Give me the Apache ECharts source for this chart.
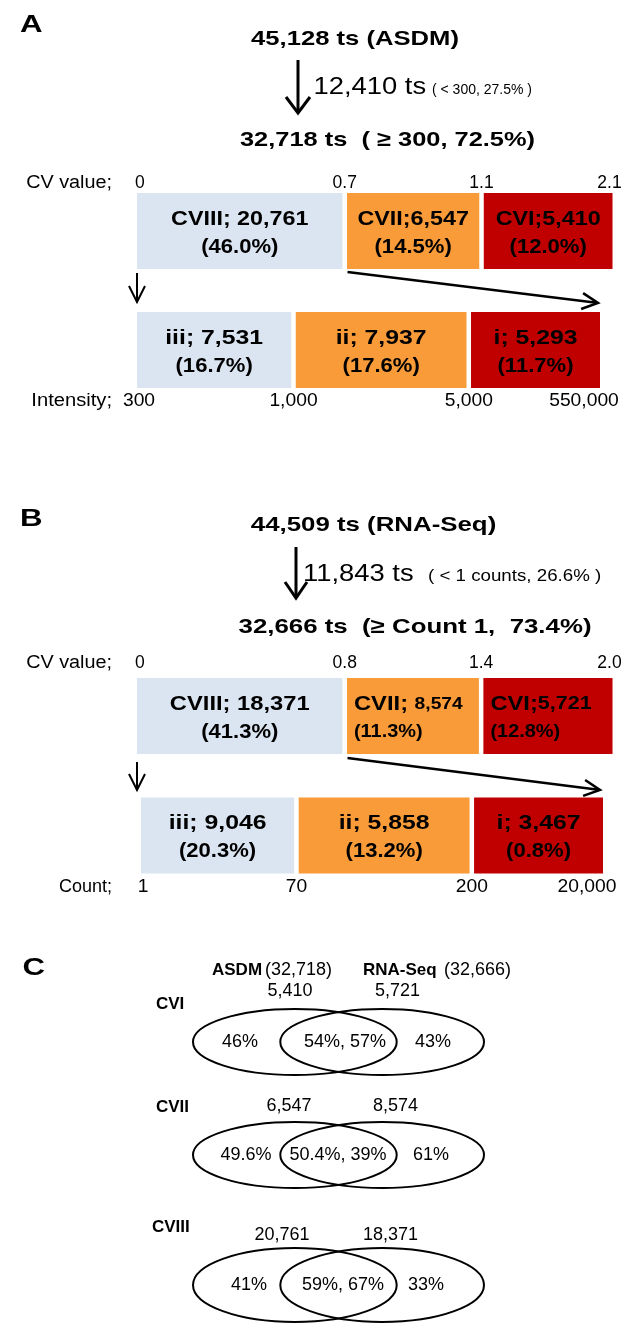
<!DOCTYPE html>
<html>
<head>
<meta charset="utf-8">
<script src="https://cdn.jsdelivr.net/npm/echarts@6.0.0/dist/echarts.min.js"></script>
<style>
html,body{margin:0;padding:0;background:#ffffff;}
#chart{width:643px;height:1329px;}
</style>
</head>
<body>
<div id="chart"></div>
<script>
// ================= DATA =================
// Panel A (ASDM)
const asdmTitle = '45,128 ts (ASDM)';
const asdmFiltered = '12,410 ts';
const asdmFilteredNote = '( < 300, 27.5% )';
const asdmKept = '32,718 ts  ( \u2265 300, 72.5%)';
const asdmCvTicks = ['0', '0.7', '1.1', '2.1'];
const asdmIntensityTicks = ['300', '1,000', '5,000', '550,000'];
const asdmCvClasses = ['CVIII', 'CVII', 'CVI'];
const asdmCvCounts = [20761, 6547, 5410];
const asdmCvPercents = ['46.0', '14.5', '12.0'];
const asdmIntClasses = ['iii', 'ii', 'i'];
const asdmIntCounts = [7531, 7937, 5293];
const asdmIntPercents = ['16.7', '17.6', '11.7'];

// Panel B (RNA-Seq)
const rnaTitle = '44,509 ts (RNA-Seq)';
const rnaFiltered = '11,843 ts';
const rnaFilteredNote = '( < 1 counts, 26.6% )';
const rnaKept = '32,666 ts  (\u2265 Count 1,  73.4%)';
const rnaCvTicks = ['0', '0.8', '1.4', '2.0'];
const rnaCountTicks = ['1', '70', '200', '20,000'];
const rnaCvClasses = ['CVIII', 'CVII', 'CVI'];
const rnaCvCounts = [18371, 8574, 5721];
const rnaCvPercents = ['41.3', '11.3', '12.8'];
const rnaCntClasses = ['iii', 'ii', 'i'];
const rnaCntCounts = [9046, 5858, 3467];
const rnaCntPercents = ['20.3', '13.2', '0.8'];

// Panel C (Venn overlap)
const vennSets = ['ASDM', 'RNA-Seq'];
const vennSetTotals = ['(32,718)', '(32,666)'];
const vennRows = ['CVI', 'CVII', 'CVIII'];
const vennAsdmCounts = [5410, 6547, 20761];
const vennRnaCounts = [5721, 8574, 18371];
const vennAsdmOnly = ['46%', '49.6%', '41%'];
const vennShared = ['54%, 57%', '50.4%, 39%', '59%, 67%'];
const vennRnaOnly = ['43%', '61%', '33%'];

// ================= LAYOUT / STYLE =================
const FONT = '"Liberation Sans", Arial, Helvetica, sans-serif';
const COLORS = ['#dbe5f1', '#f99b38', '#c00000'];
const BAR = { left: 137, width: 476, h: 76, gap: 4.5, pad: 7 };
const GRID_A = { top: 171.5, height: 238, upper: [0, 43.64, 72.38, 99.9], lower: [0, 32.88, 69.7, 97.27] };
const GRID_B = { top: 656.25, height: 239, upper: [0, 43.64, 72.3, 99.9], lower: [0.84, 33.5, 70.34, 97.9] };
const VENN = { left: 193, width: 291, centers: [35, 65], half: 35, rowY: [1042, 1155, 1285], ry: [33, 33, 37] };

function font(size, bold) { return (bold ? 'bold ' : '') + size + 'px ' + FONT; }
const mctx = document.createElement('canvas').getContext('2d');
function measure(t, f) { mctx.font = f; return mctx.measureText(t).width; }
function fmt(n) { return n.toLocaleString('en-US'); }
function textEl(x, y, text, f, sx, align) {
  return { type: 'text', x: x, y: y, scaleX: sx, silent: true,
    style: { text: text, font: f, fill: '#000', textAlign: align, textVerticalAlign: 'middle' } };
}
function txt(x, y, text, size, o) {
  o = o || {};
  return textEl(x, y, text, font(size, o.bold), o.sx || 1, o.align || 'left');
}

const chart = echarts.init(document.getElementById('chart'), null, { renderer: 'canvas' });

function barSeries(gridIndex, rows) {
  const data = [];
  rows.forEach(function (row) {
    for (let i = 0; i < 3; i++) data.push([row.cuts[i], row.cuts[i + 1], 0]);
  });
  return {
    type: 'custom', coordinateSystem: 'cartesian2d', xAxisIndex: gridIndex, yAxisIndex: gridIndex,
    silent: true, animation: false, encode: { x: [0, 1] }, data: data,
    renderItem: function (params, api) {
      const r = Math.floor(params.dataIndex / 3), i = params.dataIndex % 3;
      const row = rows[r];
      const p0 = api.coord([api.value(0), r]);
      const p1 = api.coord([api.value(1), r]);
      const x0 = p0[0] + (i > 0 ? BAR.gap / 2 : 0);
      const x1 = p1[0] - (i < 2 ? BAR.gap / 2 : 0);
      const cy = p0[1];
      const children = [{ type: 'rect', shape: { x: x0, y: cy - BAR.h / 2, width: x1 - x0, height: BAR.h }, style: { fill: COLORS[i] } }];
      const f1 = font(row.size, true), f2 = font(row.numSize[i], true);
      const part1 = row.names[i] + row.seps[i], part2 = fmt(row.counts[i]);
      const w1 = measure(part1, f1) * row.sx, w2 = measure(part2, f2) * row.sx;
      const left = row.align[i] === 'left';
      const s1 = left ? x0 + BAR.pad : (x0 + x1) / 2 - (w1 + w2) / 2;
      children.push(textEl(s1, cy - 12, part1, f1, row.sx, 'left'));
      children.push(textEl(s1 + w1, cy - 12, part2, f2, row.sx, 'left'));
      const pt = '(' + row.pcts[i] + '%)';
      const fp = font(row.pctSize[i], true);
      const wp = measure(pt, fp) * row.pctSx;
      const s2 = left ? x0 + BAR.pad : (x0 + x1) / 2 - wp / 2;
      children.push(textEl(s2, cy + 16, pt, fp, row.pctSx, 'left'));
      return { type: 'group', children: children };
    }
  };
}

const rowsA = [
  { names: asdmCvClasses, seps: ['; ', ';', ';'], counts: asdmCvCounts, pcts: asdmCvPercents, cuts: GRID_A.upper,
    align: ['center', 'center', 'center'], size: 21, numSize: [21, 21, 21], sx: 1.11, pctSize: [21, 21, 21], pctSx: 1.05 },
  { names: asdmIntClasses, seps: ['; ', '; ', '; '], counts: asdmIntCounts, pcts: asdmIntPercents, cuts: GRID_A.lower,
    align: ['center', 'center', 'center'], size: 21, numSize: [21, 21, 21], sx: 1.18, pctSize: [21, 21, 21], pctSx: 1.05 }
];
const rowsB = [
  { names: rnaCvClasses, seps: ['; ', '; ', ';'], counts: rnaCvCounts, pcts: rnaCvPercents, cuts: GRID_B.upper,
    align: ['center', 'left', 'left'], size: 21, numSize: [21, 17, 19], sx: 1.13, pctSize: [21, 19, 19], pctSx: 1.05 },
  { names: rnaCntClasses, seps: ['; ', '; ', '; '], counts: rnaCntCounts, pcts: rnaCntPercents, cuts: GRID_B.lower,
    align: ['center', 'center', 'center'], size: 21, numSize: [21, 21, 21], sx: 1.18, pctSize: [21, 21, 21], pctSx: 1.05 }
];

function vennSeries(k) {
  return {
    type: 'custom', coordinateSystem: 'cartesian2d', xAxisIndex: 2 + k, yAxisIndex: 2 + k,
    silent: true, animation: false, encode: { x: 0 },
    data: VENN.centers.map(function (c) { return [c, 0]; }),
    renderItem: function (params, api) {
      const c = api.coord([api.value(0), 0]);
      const rx = api.size([VENN.half, 0])[0];
      return { type: 'ellipse', shape: { cx: c[0], cy: c[1], rx: rx, ry: VENN.ry[k] },
        style: { fill: 'none', stroke: '#000', lineWidth: 2 } };
    }
  };
}

const grids = [
  { left: BAR.left, width: BAR.width, top: GRID_A.top, height: GRID_A.height },
  { left: BAR.left, width: BAR.width, top: GRID_B.top, height: GRID_B.height }
];
VENN.rowY.forEach(function (y) { grids.push({ left: VENN.left, width: VENN.width, top: y - 40, height: 80 }); });
const xAxes = grids.map(function (g, i) { return { gridIndex: i, type: 'value', min: 0, max: 100, show: false }; });
const yAxes = [
  { gridIndex: 0, type: 'category', data: ['CV', 'Intensity'], inverse: true, show: false },
  { gridIndex: 1, type: 'category', data: ['CV', 'Count'], inverse: true, show: false }
];
vennRows.forEach(function (r, k) { yAxes.push({ gridIndex: 2 + k, type: 'category', data: [r], show: false }); });

chart.setOption({
  animation: false,
  backgroundColor: '#ffffff',
  grid: grids, xAxis: xAxes, yAxis: yAxes,
  series: [barSeries(0, rowsA), barSeries(1, rowsB), vennSeries(0), vennSeries(1), vennSeries(2)]
});

// ================= ANNOTATIONS =================
function arrow(x1, y1, x2, y2, lw, hl, hw) {
  const L = Math.hypot(x2 - x1, y2 - y1), dx = (x2 - x1) / L, dy = (y2 - y1) / L;
  const nx = -dy, ny = dx;
  const bx = x2 - dx * hl, by = y2 - dy * hl;
  const st = { stroke: '#000', lineWidth: lw, fill: 'none', lineCap: 'butt', lineJoin: 'miter' };
  return [
    { type: 'line', silent: true, shape: { x1: x1, y1: y1, x2: x2 - dx * lw * 0.6, y2: y2 - dy * lw * 0.6 }, style: st },
    { type: 'polyline', silent: true, shape: { points: [[bx + nx * hw, by + ny * hw], [x2, y2], [bx - nx * hw, by - ny * hw]] }, style: st }
  ];
}

function tickLabels(gridIndex, cuts, labels, y, isUpper, size, sx) {
  const out = [];
  labels.forEach(function (lab, i) {
    const px = chart.convertToPixel({ xAxisIndex: gridIndex }, cuts[i]);
    let x = px, align = 'center';
    if (isUpper) {
      if (i === 0) { x = px - 2; align = 'left'; }
      else if (i === labels.length - 1) { x = px - 3; }
    } else {
      if (i === 0) { x = px + 2; }
      else if (i === labels.length - 1) { x = px - 16; }
    }
    out.push(txt(x, y, lab, size, { align: align, sx: sx }));
  });
  return out;
}

let els = [];
// Panel A
els.push(txt(20, 25.5, 'A', 24, { bold: true, sx: 1.3 }));
els.push(txt(355, 39, asdmTitle, 21, { bold: true, sx: 1.22, align: 'center' }));
els = els.concat(arrow(298, 60, 298, 113, 3, 16, 12));
els.push(txt(313.5, 88, asdmFiltered, 23, { sx: 1.19 }));
els.push(txt(432, 90, asdmFilteredNote, 14, { sx: 1.0 }));
els.push(txt(387.5, 140, asdmKept, 21, { bold: true, sx: 1.21, align: 'center' }));
els.push(txt(112, 183, 'CV value;', 18, { sx: 1.1, align: 'right' }));
els.push(txt(112, 401, 'Intensity;', 18, { sx: 1.12, align: 'right' }));
els = els.concat(tickLabels(0, GRID_A.upper, asdmCvTicks, 183, true, 17.5, 1.0));
els = els.concat(tickLabels(0, GRID_A.lower, asdmIntensityTicks, 401, false, 18, 1.07));
els = els.concat(arrow(137, 273, 137, 302, 2, 16, 8));
els = els.concat(arrow(347.5, 272, 598, 303, 2.5, 16, 8));

// Panel B
els.push(txt(20, 519, 'B', 24, { bold: true, sx: 1.3 }));
els.push(txt(373.5, 525, rnaTitle, 21, { bold: true, sx: 1.23, align: 'center' }));
els = els.concat(arrow(296, 547, 296, 598, 3, 16, 11));
els.push(txt(303, 575, rnaFiltered, 23, { sx: 1.19 }));
els.push(txt(428, 577, rnaFilteredNote, 16, { sx: 1.17 }));
els.push(txt(415, 627, rnaKept, 21, { bold: true, sx: 1.23, align: 'center' }));
els.push(txt(112, 663, 'CV value;', 18, { sx: 1.1, align: 'right' }));
els.push(txt(112, 887, 'Count;', 18, { sx: 1.0, align: 'right' }));
els = els.concat(tickLabels(1, GRID_B.upper, rnaCvTicks, 663, true, 17.5, 1.0));
els = els.concat(tickLabels(1, GRID_B.lower, rnaCountTicks, 887, false, 18, 1.07));
els = els.concat(arrow(137, 762, 137, 790, 2, 16, 8));
els = els.concat(arrow(347.5, 758, 600, 790, 2.5, 16, 8));

// Panel C
els.push(txt(22.5, 968, 'C', 24, { bold: true, sx: 1.3 }));
els.push(txt(212, 970, vennSets[0], 17, { bold: true }));
els.push(txt(265, 970, vennSetTotals[0], 18));
els.push(txt(363, 970, vennSets[1], 17, { bold: true }));
els.push(txt(444, 970, vennSetTotals[1], 18));
const vennLabelPos = [[156, 1004], [156, 1107], [152, 1227]];
const vennCountX = [[290, 397.5], [289, 395.5], [282, 390.5]];
const vennCountY = [991, 1106, 1235];
const vennRegionX = [[240, 345, 433], [246, 338, 431], [249, 343, 426]];
vennRows.forEach(function (r, k) {
  const cy = VENN.rowY[k];
  els.push(txt(vennLabelPos[k][0], vennLabelPos[k][1], r, 17, { bold: true }));
  els.push(txt(vennCountX[k][0], vennCountY[k], fmt(vennAsdmCounts[k]), 18, { align: 'center' }));
  els.push(txt(vennCountX[k][1], vennCountY[k], fmt(vennRnaCounts[k]), 18, { align: 'center' }));
  els.push(txt(vennRegionX[k][0], cy, vennAsdmOnly[k], 18, { align: 'center' }));
  els.push(txt(vennRegionX[k][1], cy, vennShared[k], 18, { align: 'center' }));
  els.push(txt(vennRegionX[k][2], cy, vennRnaOnly[k], 18, { align: 'center' }));
});

chart.setOption({ graphic: { elements: els } });
</script>
</body>
</html>
